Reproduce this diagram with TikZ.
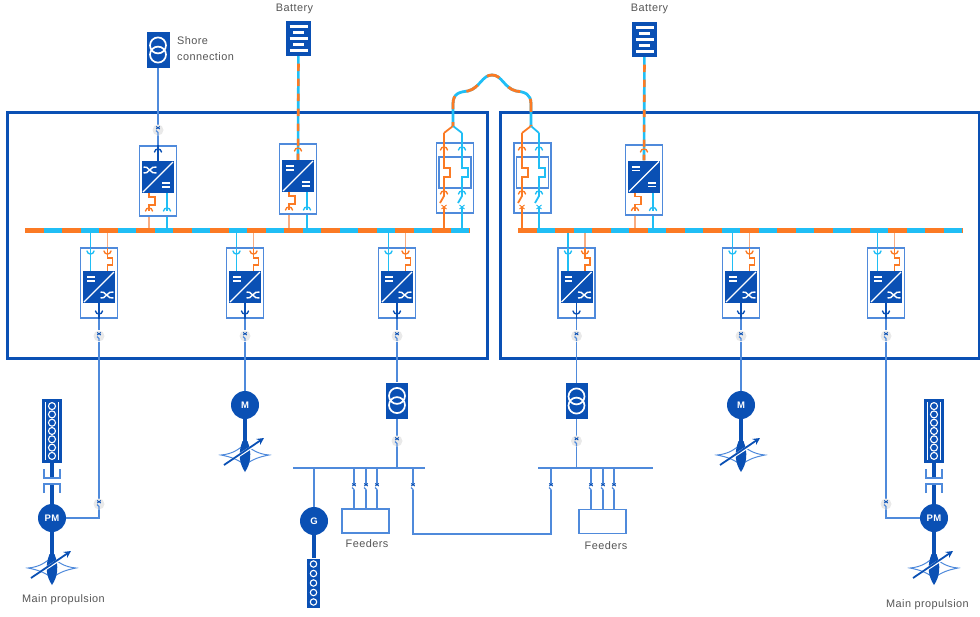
\documentclass[tikz,border=0pt]{standalone}
\usepackage{fontspec}
\setmainfont[LetterSpace=4]{Liberation Sans}
\usetikzlibrary{arrows.meta}
\definecolor{bluedark}{HTML}{0A50B4}
\definecolor{bluemid}{HTML}{4F8ADB}
\definecolor{orangec}{HTML}{FB7A24}
\definecolor{orangelt}{HTML}{F9AC80}
\definecolor{cyanc}{HTML}{20BEF5}
\definecolor{swgray}{HTML}{E9E9E9}
\definecolor{textc}{HTML}{555555}
\tikzset{
	frame/.style={draw=bluedark,line width=3pt},
	label/.style={text=textc,font=\fontsize{10.9}{12}\selectfont,inner sep=0},
	convbox/.style={draw=bluemid,line width=1.3pt,fill=white,minimum width=37,minimum height=70,inner sep=0},
	convsq/.style={fill=bluedark,minimum width=32,minimum height=32,inner sep=0},
	innerbox/.style={draw=bluemid,line width=1.2pt,minimum width=32,minimum height=31,inner sep=0},
	trafo/.style={fill=bluedark,minimum width=22,minimum height=36,inner sep=0},
	battery/.style={fill=bluedark,minimum width=25,minimum height=35,inner sep=0},
	motor/.style={circle,fill=bluedark,minimum size=28,inner sep=0,text=white,font=\bfseries\fontsize{9.5}{10}\selectfont},
	sw/.style={circle,fill=swgray,minimum size=11,inner sep=0},
	swbare/.style={fill=white,minimum width=4,minimum height=6,inner sep=0},
	feeder/.style={draw=bluemid,line width=1.4pt,minimum width=47,minimum height=24,inner sep=0},
	wire/.style={draw=bluemid,line width=1.5pt},
	shaft/.style={draw=bluedark,line width=4.5pt},
	arm/.style={line width=1.8pt},
	dcac/.style={draw=white,line width=1.4pt},
	pics/plugup/.style={code={\draw[line width=1.4pt,line cap=round] (-3.5,1) .. controls (-3,-3) and (3,-3) .. (3.5,1);}},
	pics/plugdown/.style={code={\draw[line width=1.4pt,line cap=round] (-3.5,-1) .. controls (-3,3) and (3,3) .. (3.5,-1);}},
	pics/dcsym/.style={code={\draw[dcac,line width=1.6pt] (-3.8,-1.8) -- (3.8,-1.8) (-3.8,1.8) -- (3.8,1.8);}},
	pics/acsym/.style={code={\draw[dcac] (-6.5,-3) .. controls (-2,-5) and (1,5) .. (6.5,3) (-6.5,3) .. controls (-2,5) and (1,-5) .. (6.5,-3);}},
	pics/mark/.style={code={
		\draw[bluedark,line width=.9pt] (-1.8,-3.5) -- (1.8,-1) (-1.8,-1) -- (1.8,-3.5);
		\draw[bluemid,line width=1.1pt] (-2,.5) -- (0,2.5) -- (0,5);}},
	pics/coils/.style={code={\draw[white,line width=1.7pt] (0,-4.6) circle (8) (0,4.6) circle (8);}},
	pics/propeller/.style={code={
		\draw[shaft] (0,14) -- (0,38);
		\draw[draw=bluemid,line width=1pt] (-24,50) .. controls (-12,49) and (-6,44) .. (0,39) .. controls (6,44) and (12,49) .. (24,50) .. controls (14,52) and (8,54) .. (0,60) .. controls (-8,54) and (-14,52) .. (-24,50) -- cycle;
		\fill[bluedark] (-2.5,36) .. controls (-7,48) and (-6,58) .. (0,67) .. controls (6,58) and (7,48) .. (2.5,36) -- cycle;
		\draw[white,line width=3pt] (-10,53) -- (10,40);
		\draw[bluedark,line width=1.8pt,-{Stealth[length=7pt,width=7pt]}] (-21,60) -- (19,33);}},
	pics/engine/.style={code={
		\fill[bluedark] (-10,-32) rectangle (10,32);
		\draw[white,line width=.7pt] (-6.8,-29) -- (-6.8,29) (6.8,-29) -- (6.8,29);
		\foreach \i in {-3,...,3} \draw[white,line width=1.1pt] (0,\i*8.3) circle (3.5);
		\draw[shaft] (0,32) -- (0,47) (0,53) -- (0,73);
		\draw[bluemid,line width=1.3pt] (-8,38) -- (-8,47) -- (8,47) -- (8,38) (-8,62) -- (-8,53) -- (8,53) -- (8,62);}}
}
\begin{document}
\begin{tikzpicture}[x=1pt,y=-1pt]
	\useasboundingbox (0,0) rectangle (980,616);
	% Frames
	\node[frame,minimum width=480,minimum height=246,inner sep=0] (room1) at (247,235) {};
	\node[frame,minimum width=479,minimum height=246,inner sep=0] (room2) at (739.5,235) {};
	% Place nodes
	\coordinate (bus1w) at (25,230);
	\coordinate (bus1e) at (470,230);
	\coordinate (bus2w) at (518,230);
	\coordinate (bus2e) at (963,230);
	\node[trafo,minimum width=23] (shore) at (158,50) {};
	\node[trafo] (tr1) at (397,400.5) {};
	\node[trafo] (tr2) at (576.5,401) {};
	\foreach \t in {shore,tr1,tr2} \pic at (\t) {coils};
	\node[label,anchor=west,align=left] (shorelabel) at (177,49) {Shore\\[4pt]connection};
	\foreach \b/\x/\y/\lx in {batt1/298.5/38.5/294.5,batt2/644.5/39.5/649.5} {
		\node[battery] (\b) at (\x,\y) {};
		\foreach \dy/\w in {-12/9,-6/5.5,0/9,6/5.5,12/9}
			\draw[white,line width=2.4pt] (\x-\w,\y+\dy) -- (\x+\w,\y+\dy);
		\node[label] (\b-label) at (\lx,8.5) {Battery};
	}
	% Upper converters: name/x/box/square
	\foreach \n/\x/\yb/\ys in {cu1/158/181/177,cu2/298/179/176,cu3/644/180/176.5} {
		\node[convbox] (\n) at (\x,\yb) {};
		\node[convsq] (\n-sq) at (\x,\ys) {};
		\draw[white,line width=1.2pt] (\x-15,\ys+15) -- (\x+15,\ys-15);
		\pic at (\x+8,\ys+8) {dcsym};
		\coordinate (\n-o) at (\x-9,\ys+16);
		\coordinate (\n-c) at (\x+9,\ys+16);
		% zigzag of the orange arm
		\draw[orangec,arm] (\n-o) -- ++(0,4) -- ++(6,0) -- ++(0,8) -- ++(-6,0) -- ++(0,6);
		\draw[cyanc,arm] (\n-c) -- ++(0,18);
		\draw[orangelt,arm] (\n-o |- \n.south) -- (\n-o |- bus1w);
		\draw[cyanc,arm] (\n-c |- \n.south) -- (\n-c |- bus1w);
		\pic[orangec] at (\x-9,\ys+33) {plugup};
		\pic[cyanc] at (\x+9,\ys+33) {plugup};
	}
	\pic at (150,170) {acsym}; % Shore side is AC
	\pic at (290,168) {dcsym};
	\pic at (636,168.5) {dcsym};
	% Lower converters
	\foreach \n/\x in {cd1/99,cd2/245,cd3/397,cd4/576.5,cd5/741,cd6/886} {
		\node[convbox] (\n) at (\x,283) {};
		\node[convsq] (\n-sq) at (\x,287) {};
		\draw[white,line width=1.2pt] (\x-15,302) -- (\x+15,272);
		\pic at (\x-8,279) {dcsym};
		\pic at (\x+8,295) {acsym};
		\coordinate (\n-c) at (\x-8.5,271);
		\coordinate (\n-o) at (\x+8.5,271);
		\draw[cyanc,arm] (\n-c) -- (\x-8.5,248);
		\draw[orangec,arm] (\n-o) -- ++(0,-6) -- ++(5,0) -- ++(0,-7) -- ++(-5,0) -- ++(0,-10);
		\draw[cyanc,arm] (\n-c |- \n.north) -- (\n-c |- bus1w);
		\draw[orangelt,arm] (\n-o |- \n.north) -- (\n-o |- bus1w);
		\pic[cyanc] at (\x-8.5,252) {plugdown};
		\pic[orangec] at (\x+8.5,252) {plugdown};
		\draw[bluedark,arm] (\n-sq.south) -- (\n.south);
		\pic[bluedark] at (\x,312) {plugdown};
		\node[sw] (\n-sw) at (\x,336) {};
	}
	% Motors
	\node[motor] (pm1) at (52,518) {PM};
	\node[motor] (m1) at (245,405) {M};
	\node[motor] (m2) at (741,405) {M};
	\node[motor] (pm2) at (934,518) {PM};
	\node[motor] (g1) at (314,521) {G};
	\foreach \m in {pm1,m1,m2,pm2} \pic at (\m) {propeller};
	\pic at (52,431) {engine};
	\pic at (934,431) {engine};
	% Generator set
	\draw[shaft] (g1) -- (314,558);
	\node[fill=bluedark,minimum width=13,minimum height=49,inner sep=0] (diesel) at (313.5,583) {};
	\foreach \i in {-2,...,2} \draw[white,line width=1.1pt] (313.5,583+\i*9.5) circle (3.2);
	% Feeders
	\coordinate (lv1w) at (293,468);
	\coordinate (lv1e) at (425,468);
	\coordinate (lv2w) at (538,468);
	\coordinate (lv2e) at (653,468);
	\node[feeder] (feed1) at (365.5,521) {};
	\node[feeder] (feed2) at (602.5,521.5) {};
	\node[label] (feed1label) at (367,544) {Feeders};
	\node[label] (feed2label) at (606,546) {Feeders};
	\node[label] (prop1label) at (63.5,599.5) {Main propulsion};
	\node[label] (prop2label) at (927.5,604.5) {Main propulsion};
	% Connect nodes
	\draw[wire] (shore) -- (cu1);
	\draw[wire] (lv1w) -- (lv1e);
	\draw[wire] (lv2w) -- (lv2e);
	\draw[wire] (cd1-sw) -- (cd1-sw |- pm1) -- (pm1);
	\draw[wire] (cd2-sw) -- (m1);
	\draw[wire] (cd3-sw) -- (tr1);
	\draw[wire] (cd4-sw) -- (tr2);
	\draw[wire] (cd5-sw) -- (m2);
	\draw[wire] (cd6-sw) -- (cd6-sw |- pm2) -- (pm2);
	\foreach \n in {cd1,cd2,cd3,cd4,cd5,cd6} \draw[wire] (\n.south) -- (\n-sw);
	\draw[wire] (tr1) -- (tr1 |- lv1e);
	\draw[wire] (tr2) -- (tr2 |- lv2e);
	\draw[wire] (g1) -- (g1 |- lv1e);
	\foreach \x in {354,366,377} \draw[wire] (\x,468) -- (\x,509);
	\foreach \x in {591,603,614} \draw[wire] (\x,468) -- (\x,509.5);
	\coordinate (tie1) at (413,534);
	\coordinate (tie2) at (551,534);
	\draw[wire] (tie1 |- lv1e) -- (tie1) -- (tie2) -- (tie2 |- lv2e);
	% Switches
	\foreach \n/\x/\y in {s1/158/130,s2/99/504,s3/886/504,s4/397/441,s5/576.5/441} \node[sw] (\n) at (\x,\y) {};
	\foreach \n/\x/\y in {b1/354/487,b2/366/487,b3/377/487,b4/413/487,b5/551/487,b6/591/487,b7/603/487,b8/614/487} \node[swbare] (\n) at (\x,\y) {};
	\foreach \s in {s1,s2,s3,s4,s5,cd1-sw,cd2-sw,cd3-sw,cd4-sw,cd5-sw,cd6-sw,b1,b2,b3,b4,b5,b6,b7,b8} \pic at (\s) {mark};
	\pic[bluedark] at (158,151) {plugup};
	\draw[bluedark,arm] (cu1.north) -- (cu1-sq.north);
	% Bus bars and battery cables
	\foreach \a/\b in {bus1w/bus1e,bus2w/bus2e} {
		\draw[cyanc,line width=5pt] (\a) -- (\b);
		\draw[orangec,line width=5pt,dash pattern=on 18.5pt off 18.5pt] (\a) -- (\b);
	}
	\foreach \b/\c in {batt1/cu2,batt2/cu3} {
		\draw[cyanc,line width=2.6pt] (\b) -- (\c-sq.north);
		\draw[orangec,line width=2.6pt,dash pattern=on 7.5pt off 7.5pt,dash phase=7.5pt] (\b.south) -- (\c-sq.north);
	}
	\pic[orangec] at (298,150) {plugup};
	\pic[orangec] at (644,151) {plugup};
	% Tie units
	\foreach \n/\x/\o/\c in {tie3/455/444/462,tie4/532.5/522/539} {
		\node[convbox,fill=none] (\n) at (\x,178) {};
		\node[innerbox] (\n-in) at (\x,172.5) {};
		\coordinate (\n-o) at (\o,230);
		\coordinate (\n-c) at (\c,230);
		\foreach \a/\col in {\o/orangec,\c/cyanc} {
			\draw[\col,arm] (\a,228) -- (\a,207) (\a-4,203) -- (\a,196) -- (\a,177) -- (\a+6,177) -- (\a+6,168) -- (\a,168) -- (\a,133);
			\pic[\col] at (\a,149) {plugup};
			\pic[\col] at (\a,193) {plugup};
			\draw[\col,line width=.9pt] (\a-2.5,205) -- (\a+2.5,209) (\a+2.5,205) -- (\a-2.5,209);
		}
	}
	\draw[orangec,arm] (444,133) -- (453,126);
	\draw[cyanc,arm] (462,133) -- (453,126);
	\draw[orangec,arm] (522,133) -- (531,126);
	\draw[cyanc,arm] (539,133) -- (531,126);
	% Cable between rooms
	\draw[cyanc,line width=2.8pt] (453,126) -- (453,104) .. controls (453,93) and (460,92) .. (468,91) .. controls (480,88) and (482,75) .. (492,75) .. controls (502,75) and (504,88) .. (516,91) .. controls (525,92) and (531,94) .. (531,104) -- (531,126);
	\draw[orangec,line width=2.8pt,dash pattern=on 13pt off 13pt,dash phase=9pt] (453,126) -- (453,104) .. controls (453,93) and (460,92) .. (468,91) .. controls (480,88) and (482,75) .. (492,75) .. controls (502,75) and (504,88) .. (516,91) .. controls (525,92) and (531,94) .. (531,104) -- (531,126);
\end{tikzpicture}
\end{document}
